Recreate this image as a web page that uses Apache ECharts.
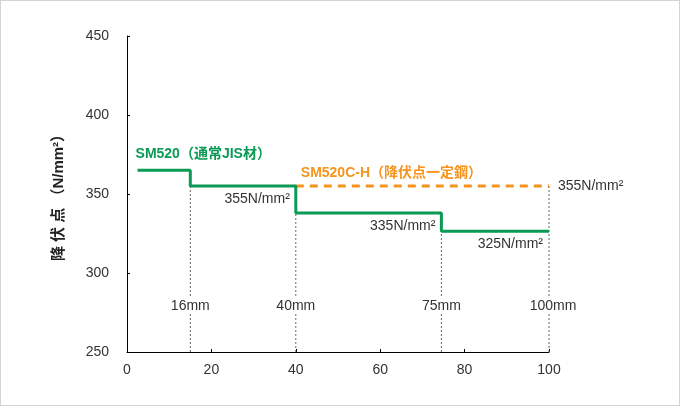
<!DOCTYPE html>
<html><head><meta charset="utf-8">
<script src="https://cdn.jsdelivr.net/npm/echarts@6/dist/echarts.min.js"></script>
<style>
html,body{margin:0;padding:0;background:#fff;}
#wrap{width:680px;height:406px;box-sizing:border-box;border:1px solid #d4d4d4;}
#c{width:100%;height:100%;}
</style></head>
<body><div id="wrap"><div id="c"></div></div>
<script>
// ---- data ----
const xTicks = [0, 20, 40, 60, 80, 100];
const yTicks = [250, 300, 350, 400, 450];
const stepStart = 2.5;                      // where the SM520 line begins
const thicknessX = [15, 40, 74.5, 100];     // thickness break positions
const thicknessLabels = ['16mm', '40mm', '75mm', '100mm'];
const jisLevels = [365, 355, 338, 326.5];   // SM520 yield point per range
const jisValueLabels = ['', '355N/mm²', '335N/mm²', '325N/mm²'];
const constStart = 40, constEnd = 100;
const constLevel = 355;                     // SM520C-H
const constValueLabel = '355N/mm²';
const seriesNames = ['SM520（通常JIS材）', 'SM520C-H（降伏点一定鋼）'];
const yName = '降 伏 点 （N/mm²）';

const GREEN = '#0b9a55', ORANGE = '#f7941d', TXT = '#333';
const FONT = '"Liberation Sans","Noto Sans CJK JP",sans-serif';

const chart = echarts.init(document.getElementById('c'));

// step line points
const jisX = [stepStart].concat(thicknessX);
const jisData = jisX.map((x, i) => [x, jisLevels[Math.min(i, jisLevels.length - 1)]]);

// vertical dotted guides
const guideTops = thicknessX.map((x, i) => i < thicknessX.length - 1 ? jisLevels[i + 1] : constLevel);
const guideSeries = thicknessX.map((x, i) => ({
  type: 'line', silent: true, symbol: 'none', z: 1,
  data: [[x, yTicks[0]], [x, guideTops[i]]],
  lineStyle: { color: '#666', width: 1, type: [2, 2] }
}));

function txt(anchor, text, pos, dist, off, style) {
  return {
    value: anchor,
    label: Object.assign({ show: true, formatter: text, position: pos, distance: dist, offset: off,
      color: TXT, fontSize: 14, fontFamily: FONT }, style || {})
  };
}

const annotations = [
  txt([stepStart, jisLevels[0]], seriesNames[0], 'right', -2, [0, -16], { color: GREEN, fontWeight: 'bold' }),
  txt([constStart, constLevel], seriesNames[1], 'right', 5, [0, -13], { color: ORANGE, fontWeight: 'bold' }),
  txt([constEnd, constLevel], constValueLabel, 'right', 9, [0, 0])
];
for (let i = 1; i < jisLevels.length; i++) {
  annotations.push(txt([thicknessX[i], jisLevels[i]], jisValueLabels[i], 'left', 6, [0, 13]));
}
thicknessX.forEach((x, i) => {
  annotations.push(txt([x, yTicks[0]], thicknessLabels[i], 'top', 0, [i === thicknessX.length - 1 ? 4 : 0, -38],
    { backgroundColor: '#fff', padding: [1, 0] }));
});

chart.setOption({
  animation: false,
  backgroundColor: '#fff',
  grid: { left: 126, right: 130, top: 35, bottom: 53, containLabel: false },
  xAxis: {
    type: 'value', min: xTicks[0], max: xTicks[xTicks.length - 1], interval: 20,
    axisLine: { lineStyle: { color: '#000', width: 1 } },
    axisTick: { show: true, inside: true, length: 3, lineStyle: { color: '#000' } },
    splitLine: { show: false },
    axisLabel: { color: TXT, fontSize: 14, margin: 11, fontFamily: FONT }
  },
  yAxis: {
    type: 'value', min: yTicks[0], max: yTicks[yTicks.length - 1], interval: 50,
    name: yName, nameLocation: 'middle', nameRotate: 90, nameGap: 61,
    nameTextStyle: { color: '#222', fontSize: 15, fontWeight: 'bold', fontFamily: FONT },
    axisLine: { show: true, lineStyle: { color: '#000', width: 1 } },
    axisTick: { show: true, inside: true, length: 3, lineStyle: { color: '#000' } },
    splitLine: { show: false },
    axisLabel: { color: TXT, fontSize: 14, margin: 18, fontFamily: FONT }
  },
  series: guideSeries.concat([
    {
      type: 'line', name: seriesNames[0], step: 'end', symbol: 'none', z: 3,
      data: jisData, lineStyle: { color: GREEN, width: 3 }
    },
    {
      type: 'line', name: seriesNames[1], symbol: 'none', z: 2,
      data: [[constStart, constLevel], [constEnd, constLevel]],
      lineStyle: { color: ORANGE, width: 3, type: [8, 6] }
    },
    {
      type: 'scatter', symbolSize: 0, z: 5, silent: true,
      itemStyle: { opacity: 1 },
      data: annotations
    }
  ])
});
</script>
</body></html>
